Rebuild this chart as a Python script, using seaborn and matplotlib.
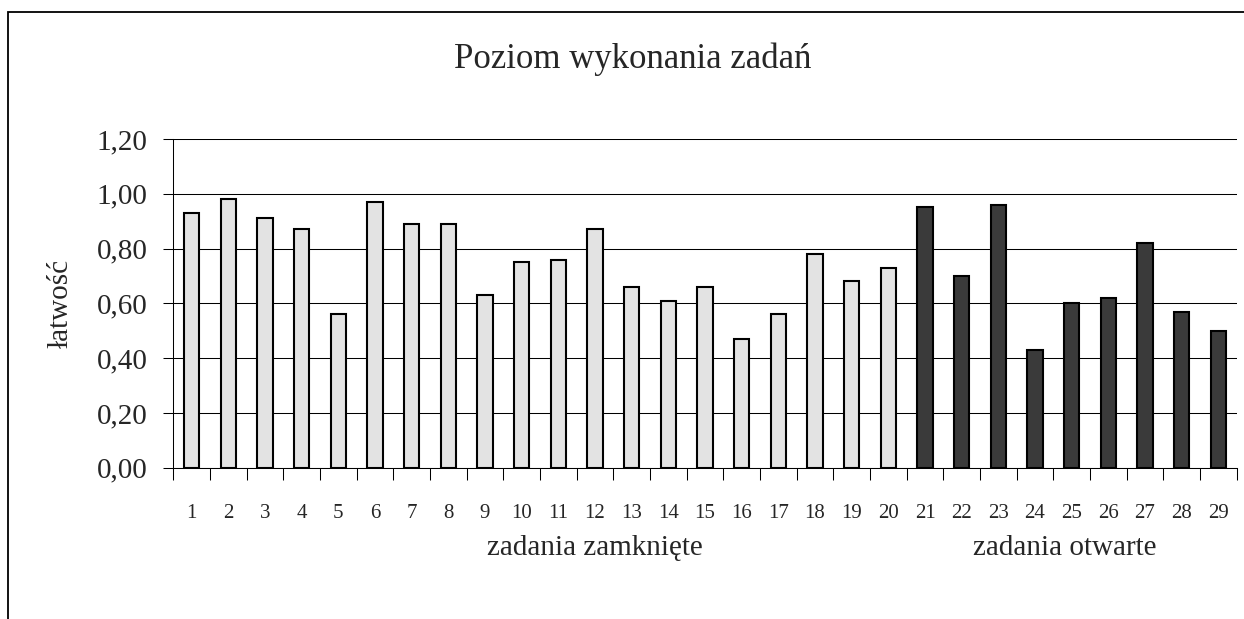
import numpy as np
import pandas as pd
import seaborn as sns
import matplotlib.pyplot as plt
from matplotlib.patches import Rectangle
from matplotlib.ticker import FixedLocator, FuncFormatter

# ============================================================
# Data
# ============================================================

tasks = [str(i) for i in range(1, 30)]
ease = [0.93, 0.98, 0.91, 0.87, 0.56, 0.97, 0.89, 0.89, 0.63, 0.75,
        0.76, 0.87, 0.66, 0.61, 0.66, 0.47, 0.56, 0.78, 0.68, 0.73,
        0.95, 0.70, 0.96, 0.43, 0.60, 0.62, 0.82, 0.57, 0.50]
group = ['zamknięte'] * 20 + ['otwarte'] * 9
group_labels = ['zadania zamknięte', 'zadania otwarte']
y_ticks = [0.0, 0.2, 0.4, 0.6, 0.8, 1.0, 1.2]

df = pd.DataFrame({'zadanie': tasks, 'latwosc': ease, 'typ': group})

# ============================================================
# Plot
# ============================================================

sns.set_style('white')
plt.rcParams['font.family'] = ['Liberation Serif', 'DejaVu Serif']

fig = plt.figure(figsize=(12.44, 6.19), dpi=100)
ax = fig.add_axes([173.3 / 1244, 151.3 / 619, 1063.4 / 1244, 328.7 / 619])

sns.barplot(data=df, x='zadanie', y='latwosc', hue='typ',
            palette={'zamknięte': '#e3e3e3', 'otwarte': '#3a3a3a'},
            dodge=False, width=0.42, edgecolor='black', linewidth=1.5,
            legend=False, ax=ax, zorder=3)

ax.set_xlim(-0.5, 28.5)
ax.set_ylim(0, 1.2)

# y axis
ax.yaxis.set_major_locator(FixedLocator(y_ticks))
ax.yaxis.set_major_formatter(FuncFormatter(lambda v, p: f'{v:.2f}'.replace('.', ',')))
ax.tick_params(axis='y', which='major', direction='out', length=7.2, width=0.75,
               pad=11.5, labelsize=21, left=True, color='black')
ax.grid(axis='y', color='black', linewidth=0.75, zorder=0)
ax.set_axisbelow(True)

# x axis: labels at centres, ticks between categories
ax.tick_params(axis='x', which='major', length=0, pad=26, labelsize=15)
ax.set_xticks(np.arange(-0.5, 29, 1), minor=True)
ax.tick_params(axis='x', which='minor', direction='out', length=8.6, width=0.75,
               bottom=True, color='black')

for side in ['top', 'right']:
    ax.spines[side].set_visible(False)
for side in ['left', 'bottom']:
    ax.spines[side].set_color('black')
    ax.spines[side].set_linewidth(0.75)

ax.set_xlabel('')
ax.set_ylabel('łatwość', fontsize=21)
ax.yaxis.set_label_coords(-0.094, 0.5)

# group labels under the ticks
ax.text(11.0, -0.32, group_labels[0], fontsize=21, ha='center', va='baseline',
        transform=ax.transData, clip_on=False)
ax.text(23.8, -0.32, group_labels[1], fontsize=21, ha='center', va='baseline',
        transform=ax.transData, clip_on=False)

fig.text(632.5 / 1244, 1 - 68 / 619, 'Poziom wykonania zadań', fontsize=25,
         ha='center', va='baseline')

# outer chart border (cut off at right and bottom)
fig.add_artist(Rectangle((8 / 1244, -0.2), 1.2, 1.2 - 12.5 / 619,
                         transform=fig.transFigure, fill=False,
                         edgecolor='black', linewidth=1.3))

fig.savefig('out.png', dpi=100)
